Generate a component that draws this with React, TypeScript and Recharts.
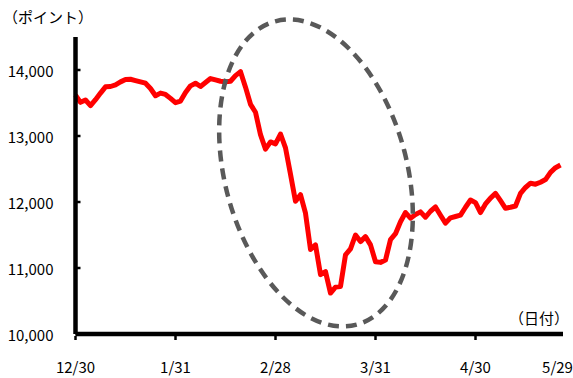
import React from "react";
import { LineChart, Line, XAxis, YAxis, ReferenceDot } from "recharts";

// daily index closes, 12/30 through 5/29 (one entry per trading day)
const closes = [
  13620, 13510, 13545, 13460, 13550, 13650, 13745, 13750, 13775, 13820,
  13855, 13860, 13840, 13820, 13800, 13720, 13610, 13650, 13630, 13570,
  13505, 13530, 13660, 13760, 13800, 13750, 13810, 13870, 13850, 13830,
  13820, 13830, 13915, 13975, 13740, 13480, 13360, 13020, 12800, 12910,
  12880, 13030, 12820, 12420, 12010, 12110, 11830, 11280, 11350, 10900,
  10945, 10620, 10710, 10720, 11200, 11290, 11500, 11400, 11475, 11350,
  11095, 11085, 11120, 11430, 11520, 11700, 11840, 11755, 11810, 11850,
  11770, 11860, 11925, 11800, 11680, 11760, 11780, 11800, 11920, 12030,
  11990, 11840, 11970, 12060, 12130, 12020, 11905, 11920, 11940, 12130,
  12220, 12285, 12270, 12300, 12340, 12450, 12520, 12560,
];

const xTickDays = [0, 20, 40, 60, 80, 97];
const xTickLabels = ["12/30", "1/31", "2/28", "3/31", "4/30", "5/29"];
const yTicks = [10000, 11000, 12000, 13000, 14000];

// the sell-off period that gets circled
const slumpCenter = { day: 48.1, value: 12440 };

const data = closes.map((value, day) => ({ day, value }));

const FONT = '"Noto Sans CJK JP", "Noto Sans", sans-serif';

function XTick(props: any) {
  const { x, y, index } = props;
  const last = index === xTickDays.length - 1;
  return (
    <g>
      {!last && <line x1={x} x2={x} y1={y + 2} y2={y + 6} stroke="#000" strokeWidth={2.5} />}
      <text
        x={x + (last ? -3 : 0)}
        y={y + 32}
        textAnchor="middle"
        dominantBaseline="central"
        fontSize={15}
        fontFamily={FONT}
        fill="#000"
      >
        {xTickLabels[index]}
      </text>
    </g>
  );
}

function YTick(props: any) {
  const { x, y, payload } = props;
  return (
    <g>
      <line x1={x + 22} x2={x + 27} y1={y} y2={y} stroke="#000" strokeWidth={2.5} />
      <text x={x} y={y} textAnchor="end" dominantBaseline="central" fontSize={15} fontFamily={FONT} fill="#000">
        {payload.value.toLocaleString("en-US")}
      </text>
    </g>
  );
}

function DashedEllipse(props: any) {
  const { cx, cy } = props;
  return (
    <ellipse
      cx={cx}
      cy={cy}
      rx={91}
      ry={157}
      transform={`rotate(-15 ${cx} ${cy})`}
      fill="none"
      stroke="#595959"
      strokeWidth={4.5}
      strokeDasharray="11 7"
    />
  );
}

export default function App() {
  return (
    <div style={{ position: "absolute", left: 0, top: 0, width: 573, height: 378, background: "#fff" }}>
      <LineChart width={573} height={378} data={data} margin={{ top: 37, right: 10, bottom: 0, left: 0 }}>
        <XAxis
          dataKey="day"
          type="number"
          domain={[0, 97.5]}
          ticks={xTickDays}
          tick={XTick}
          tickLine={false}
          tickSize={0}
          tickMargin={0}
          height={44}
          axisLine={{ stroke: "#000", strokeWidth: 4.5 }}
          interval={0}
        />
        <YAxis
          type="number"
          domain={[10000, 14500]}
          ticks={yTicks}
          tick={YTick}
          tickLine={false}
          tickSize={0}
          tickMargin={22}
          width={75.5}
          axisLine={{ stroke: "#000", strokeWidth: 4.5 }}
          interval={0}
        />
        <Line
          dataKey="value"
          stroke="#ff0000"
          strokeWidth={5}
          strokeLinejoin="round"
          dot={false}
          isAnimationActive={false}
        />
        <ReferenceDot
          x={slumpCenter.day}
          y={slumpCenter.value}
          r={1}
          ifOverflow="visible"
          shape={DashedEllipse}
        />
      </LineChart>
      <div style={{ position: "absolute", left: 3, top: 9, fontSize: 15, lineHeight: "15px", fontFamily: FONT, whiteSpace: "nowrap" }}>
        （ポイント）
      </div>
      <div style={{ position: "absolute", left: 509, top: 310, fontSize: 15, lineHeight: "15px", fontFamily: FONT, whiteSpace: "nowrap" }}>
        （日付）
      </div>
    </div>
  );
}
